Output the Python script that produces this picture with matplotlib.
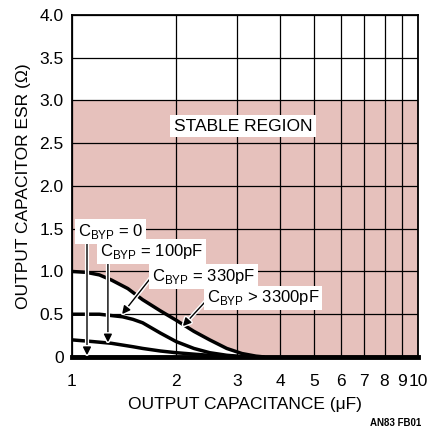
import matplotlib
matplotlib.use("Agg")
import matplotlib.pyplot as plt
import matplotlib.patheffects as pe

plt.rcParams['font.family'] = ['Liberation Sans', 'DejaVu Sans']
plt.rcParams['mathtext.fontset'] = 'custom'
plt.rcParams['mathtext.rm'] = 'Liberation Sans'

# curves (C in uF, ESR in ohm)
x_3300 = [1.0, 1.1, 1.2, 1.3, 1.45, 1.6, 1.8, 2.0, 2.25, 2.5, 2.8, 3.1, 3.4, 3.6]
y_3300 = [1.0, 0.99, 0.96, 0.9, 0.8, 0.67, 0.54, 0.43, 0.3, 0.2, 0.1, 0.04, 0.01, 0.0]

x_330 = [1.0, 1.2, 1.4, 1.5, 1.6, 1.8, 2.0, 2.25, 2.5, 2.8, 3.1, 3.4]
y_330 = [0.5, 0.5, 0.47, 0.44, 0.4, 0.28, 0.18, 0.1, 0.05, 0.02, 0.005, 0.0]

x_100 = [1.0, 1.15, 1.3, 1.5, 1.6, 1.8, 2.0, 2.3, 2.6, 3.0, 3.3]
y_100 = [0.2, 0.18, 0.16, 0.12, 0.1, 0.07, 0.05, 0.03, 0.015, 0.005, 0.0]

x_0 = [1.0, 10.0]
y_0 = [0.0, 0.0]

stable_top = 3.0
xticks = [1, 2, 3, 4, 5, 6, 7, 8, 9, 10]
yticks = [0, 0.5, 1.0, 1.5, 2.0, 2.5, 3.0, 3.5, 4.0]
ytick_labels = ['0', '0.5', '1.0', '1.5', '2.0', '2.5', '3.0', '3.5', '4.0']

labels = [r'C$_{\mathregular{BYP}}$ = 0', r'C$_{\mathregular{BYP}}$ = 100pF',
          r'C$_{\mathregular{BYP}}$ = 330pF', r'C$_{\mathregular{BYP}}$ > 3300pF']
label_pos = [(1.04, 1.47), (1.205, 1.23), (1.70, 0.94), (2.45, 0.69)]
arrow_tail = [(1.105, 1.36), (1.27, 1.10), (1.70, 0.94), (2.47, 0.68)]
arrow_tip = [(1.105, 0.02), (1.27, 0.17), (1.395, 0.50), (2.09, 0.36)]

fig = plt.figure(figsize=(4.35, 4.46), dpi=100)
ax = fig.add_axes([0.1655, 0.1996, 0.7955, 0.7668])
ax.set_xscale('log')
ax.set_xlim(1, 10)
ax.set_ylim(0, 4)

# stable region: above the >3300pF curve, up to 3 ohm
fx = x_3300 + [10.0]
fy = y_3300 + [0.0]
ax.fill_between(fx, fy, stable_top, color='#e6c1bc', lw=0, zorder=1)

ax.xaxis.set_major_locator(matplotlib.ticker.FixedLocator(xticks))
ax.xaxis.set_minor_locator(matplotlib.ticker.NullLocator())
ax.set_xticks(xticks)
ax.set_xticklabels([str(v) for v in xticks])
ax.set_yticks(yticks)
ax.set_yticklabels(ytick_labels)
ax.tick_params(length=0, labelsize=12.5)
ax.tick_params(axis='y', pad=6)
ax.tick_params(axis='x', pad=12)
ax.grid(True, color='black', lw=0.9)

for s in ax.spines.values():
    s.set_linewidth(1.3)
ax.spines['bottom'].set_linewidth(3.5)

for xs, ys in [(x_3300, y_3300), (x_330, y_330), (x_100, y_100), (x_0, y_0)]:
    ax.plot(xs, ys, color='black', lw=2.5, zorder=3, solid_capstyle='butt')

ax.text(3.12, 2.70, 'STABLE REGION', fontsize=12.5, ha='center', va='center',
        bbox=dict(facecolor='white', edgecolor='none', pad=2.5), zorder=5)

for lab, pos in zip(labels, label_pos):
    ax.text(pos[0], pos[1], lab, fontsize=12, ha='left', va='center',
            bbox=dict(facecolor='white', edgecolor='none', pad=2), zorder=6)

for t, h in zip(arrow_tail, arrow_tip):
    ann = ax.annotate('', xy=h, xytext=t, zorder=5,
                      arrowprops=dict(arrowstyle='-|>', color='black', lw=1.0,
                                      mutation_scale=12, shrinkA=0, shrinkB=0))
    ann.arrow_patch.set_path_effects([pe.Stroke(linewidth=3, foreground='white'), pe.Normal()])

ax.set_xlabel('OUTPUT CAPACITANCE (\u03bcF)', fontsize=12.5, labelpad=6)
ax.set_ylabel('OUTPUT CAPACITOR ESR (\u03a9)', fontsize=12.5, labelpad=6)

fig.text(0.91, 0.052, 'AN83 FB01', fontsize=7, fontweight='bold', ha='center', va='center')

fig.savefig('out.png', dpi=100)
